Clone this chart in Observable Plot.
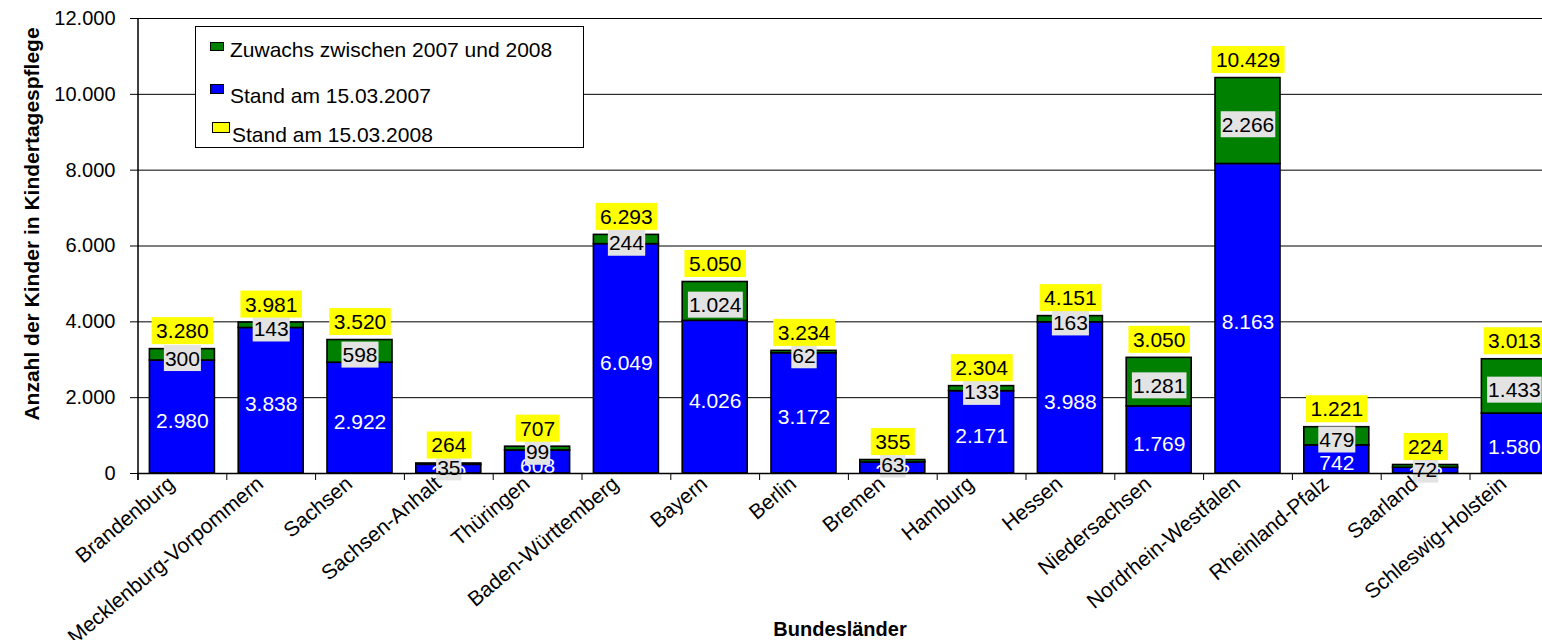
<!DOCTYPE html>
<html><head><meta charset="utf-8">
<script src="https://cdn.jsdelivr.net/npm/d3@7"></script>
<script src="https://cdn.jsdelivr.net/npm/@observablehq/plot@0.6"></script>
<style>
body{margin:0;background:#fff;font-family:"Liberation Sans",Arial,sans-serif;}
#wrap{position:relative;width:1542px;height:640px;overflow:hidden;background:#fff;}
#legend{position:absolute;left:195px;top:26px;width:387px;height:120px;border:1px solid #000;background:#fff;font-size:21px;line-height:24px;color:#000;}
.item{position:absolute;white-space:nowrap;}
.sw{position:absolute;border:1px solid #000;box-sizing:border-box;}
</style></head><body>
<div id="wrap"><div id="chart"></div><div id="legend"></div></div>
<script>
const lands = ["Brandenburg","Mecklenburg-Vorpommern","Sachsen","Sachsen-Anhalt","Thüringen","Baden-Württemberg","Bayern","Berlin","Bremen","Hamburg","Hessen","Niedersachsen","Nordrhein-Westfalen","Rheinland-Pfalz","Saarland","Schleswig-Holstein"];
const stand2007 = [2980,3838,2922,229,608,6049,4026,3172,292,2171,3988,1769,8163,742,152,1580];
const zuwachs   = [300,143,598,35,99,244,1024,62,63,133,163,1281,2266,479,72,1433];
const stand2008 = [3280,3981,3520,264,707,6293,5050,3234,355,2304,4151,3050,10429,1221,224,3013];
const yTicks = [0,2000,4000,6000,8000,10000,12000];
const seriesNames = ["Stand am 15.03.2007","Zuwachs zwischen 2007 und 2008"];
const seriesColors = ["#0000ff","#008000"];
const legendLabels = ["Zuwachs zwischen 2007 und 2008","Stand am 15.03.2007","Stand am 15.03.2008"];
const legendColors = ["#008000","#0000ff","#ffff00"];
const yTitle = "Anzahl der Kinder in Kindertagespflege";
const xTitle = "Bundesländer";

const de = d3.formatLocale({decimal: ",", thousands: ".", grouping: [3], currency: ["", " €"]});
const fmt = de.format(",d");
const idx = d3.range(lands.length);
const rows = idx.flatMap(i => [
  {land: lands[i], series: seriesNames[0], value: stand2007[i]},
  {land: lands[i], series: seriesNames[1], value: zuwachs[i]}
]);
const yMax = yTicks[yTicks.length - 1];
const W = 1542, H = 640, mL = 137, mT = 18, mB = 167;
const kY = yMax / (H - mT - mB);       // data units per pixel
const step = 88.8;
const tickLen = -7 * kY;

const chart = Plot.plot({
  width: W, height: H,
  marginLeft: mL, marginRight: 0, marginTop: mT, marginBottom: mB,
  style: {fontFamily: "'Liberation Sans', Arial, sans-serif", fontSize: "20px", color: "#000", background: "#fff", overflow: "hidden"},
  x: {domain: lands, range: [mL + 0.5, mL + 0.5 + step * lands.length], paddingInner: 0.268, paddingOuter: 0.134, round: false, axis: null},
  y: {domain: [0, yMax], axis: null},
  color: {domain: seriesNames, range: seriesColors},
  marks: [
    Plot.ruleY(yTicks, {stroke: "#000", strokeWidth: 1}),
    Plot.barY(rows, {x: "land", y: "value", fill: "series", stroke: "#000", strokeWidth: 1.6}),
    Plot.text(idx, {x: i => lands[i], y: i => stand2007[i] / 2, text: i => fmt(stand2007[i]), fill: "#fff", fontSize: 21, dy: 4, clip: true, ariaDescription: "lab2007"}),
    Plot.text(idx, {x: i => lands[i], y: i => stand2007[i] + zuwachs[i] / 2, text: i => fmt(zuwachs[i]), fill: "#000", fontSize: 21, dy: 4, ariaDescription: "labinc"}),
    Plot.text(idx, {x: i => lands[i], y: i => stand2008[i], text: i => fmt(stand2008[i]), fill: "#000", fontSize: 21, lineAnchor: "bottom", dy: -11, ariaDescription: "labtot"}),
    Plot.ruleY([0], {stroke: "#000", strokeWidth: 1.5}),
    Plot.ruleX(lands, {x: d => d, dx: -step / 2, y1: 0, y2: tickLen, stroke: "#000"}),
    Plot.ruleX([lands[0]], {x: d => d, dx: -step / 2, y1: tickLen, y2: yMax, stroke: "#000", strokeWidth: 1.5}),
    Plot.axisY({ticks: yTicks, tickFormat: fmt, tickSize: 7, tickPadding: 15, fontSize: 20, label: null, stroke: "#000"}),
    Plot.text(lands, {x: d => d, frameAnchor: "bottom", rotate: -40, textAnchor: "end", lineAnchor: "top", dx: -16, dy: 1, fontSize: 21, fill: "#000"}),
    Plot.text([yTitle], {frameAnchor: "left", text: d => d, rotate: -90, textAnchor: "middle", dx: -105, dy: -22, fontSize: 21, fontWeight: "bold", fill: "#000"}),
    Plot.text([xTitle], {frameAnchor: "bottom", text: d => d, textAnchor: "middle", lineAnchor: "bottom", dy: 162, fontSize: 20, fontWeight: "bold", fill: "#000"})
  ]
});
document.getElementById("chart").appendChild(chart);

// label backgrounds
function boxes(desc, fill, padX, padY) {
  const g = chart.querySelector(`g[aria-description="${desc}"]`);
  if (!g) return;
  g.querySelectorAll("text").forEach(t => {
    const b = t.getBBox();
    const r = document.createElementNS("http://www.w3.org/2000/svg", "rect");
    r.setAttribute("x", b.x - padX);
    r.setAttribute("y", b.y - padY);
    r.setAttribute("width", b.width + 2 * padX);
    r.setAttribute("height", b.height + 2 * padY);
    r.setAttribute("fill", fill);
    r.setAttribute("stroke", "none");
    if (t.getAttribute("transform")) r.setAttribute("transform", t.getAttribute("transform"));
    t.parentNode.insertBefore(r, t);
  });
}
boxes("labinc", "#e3e3e3", 1, 1.5);
boxes("labtot", "#ffff00", 4.5, 2);

// legend
const lg = document.getElementById("legend");
const swPos = [[14, 15, 14, 9], [14, 57, 14, 10], [16, 95, 18, 11]];
const txPos = [[34, 11], [34, 57], [36, 96]];
legendLabels.forEach((lab, i) => {
  const s = document.createElement("div");
  s.className = "sw";
  s.style.left = swPos[i][0] + "px"; s.style.top = swPos[i][1] + "px";
  s.style.width = swPos[i][2] + "px"; s.style.height = swPos[i][3] + "px";
  s.style.background = legendColors[i];
  lg.appendChild(s);
  const t = document.createElement("div");
  t.className = "item";
  t.style.left = txPos[i][0] + "px"; t.style.top = txPos[i][1] + "px";
  t.textContent = lab;
  lg.appendChild(t);
});
</script>
</body></html>
